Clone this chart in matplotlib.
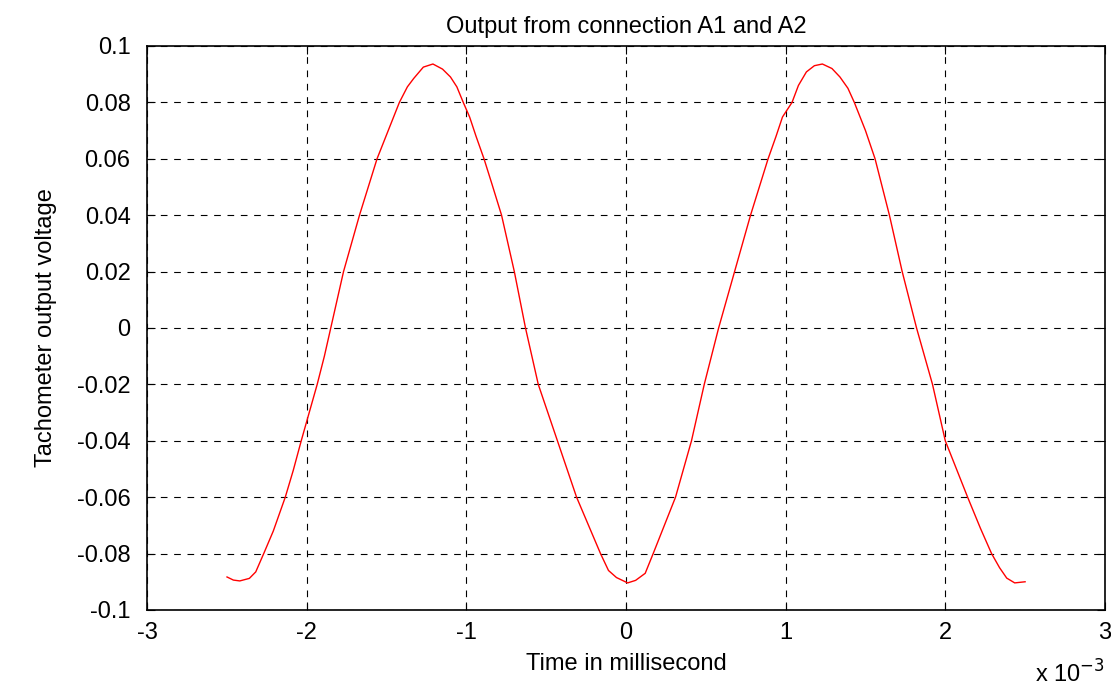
import matplotlib
matplotlib.use("Agg")
import matplotlib.pyplot as plt
import numpy as np
from matplotlib.ticker import FuncFormatter, MultipleLocator

# data (time in ms, voltage in V)
time_ms = [-2.50, -2.46, -2.42, -2.36, -2.32, -2.27, -2.21, -2.135, -2.085, -2.035,
           -1.985, -1.935, -1.89, -1.85, -1.81, -1.77, -1.72, -1.67, -1.615, -1.56,
           -1.49, -1.42, -1.37, -1.33, -1.27, -1.21, -1.15, -1.10, -1.06, -1.02,
           -0.98, -0.94, -0.89, -0.84, -0.78, -0.74, -0.70, -0.665, -0.63, -0.59,
           -0.55, -0.49, -0.43, -0.37, -0.31, -0.235, -0.16, -0.11, -0.06, 0.01,
           0.06, 0.12, 0.17, 0.24, 0.31, 0.36, 0.41, 0.45, 0.49, 0.535,
           0.58, 0.63, 0.68, 0.73, 0.78, 0.835, 0.89, 0.94, 0.98, 1.04,
           1.08, 1.13, 1.18, 1.23, 1.29, 1.34, 1.39, 1.43, 1.50, 1.56,
           1.65, 1.73, 1.775, 1.82, 1.87, 1.92, 1.96, 2.00, 2.07, 2.14,
           2.22, 2.29, 2.34, 2.385, 2.435, 2.50]
voltage = [-0.0883, -0.0894, -0.0897, -0.0888, -0.0865, -0.0800, -0.0720, -0.0600, -0.0505, -0.0400,
           -0.0300, -0.0200, -0.0100, 0.0000, 0.0100, 0.0200, 0.0300, 0.0400, 0.0500, 0.0600,
           0.0700, 0.0800, 0.0855, 0.0885, 0.0925, 0.0936, 0.0918, 0.0890, 0.0855, 0.0800,
           0.0748, 0.0680, 0.0600, 0.0510, 0.0400, 0.0300, 0.0200, 0.0100, 0.0000, -0.0100,
           -0.0200, -0.0300, -0.0400, -0.0500, -0.0600, -0.0700, -0.0800, -0.0860, -0.0885, -0.0904,
           -0.0895, -0.0870, -0.0800, -0.0700, -0.0600, -0.0500, -0.0400, -0.0300, -0.0200, -0.0100,
           0.0000, 0.0100, 0.0200, 0.0300, 0.0400, 0.0500, 0.0600, 0.0680, 0.0748, 0.0800,
           0.0860, 0.0908, 0.0930, 0.0936, 0.0920, 0.0890, 0.0850, 0.0800, 0.0700, 0.0600,
           0.0400, 0.0200, 0.0100, 0.0000, -0.0100, -0.0200, -0.0300, -0.0400, -0.0500, -0.0600,
           -0.0710, -0.0800, -0.0850, -0.0887, -0.0904, -0.0900]

title = "Output from connection A1 and A2"
xlabel = "Time in millisecond"
ylabel = "Tachometer output voltage"

plt.rcParams['font.family'] = ['Liberation Sans', 'DejaVu Sans']

fig = plt.figure(figsize=(11.11, 6.89), dpi=100)
ax = fig.add_axes([0.1325, 0.1147, 0.862, 0.8186])

t = np.array(time_ms) * 1e-3
ax.plot(t, voltage, color='red', linewidth=1.0)

ax.set_xlim(-3e-3, 3e-3)
ax.set_ylim(-0.1, 0.1)
ax.xaxis.set_major_locator(MultipleLocator(1e-3))
ax.yaxis.set_major_locator(MultipleLocator(0.02))
ax.xaxis.set_major_formatter(FuncFormatter(lambda v, p: "%g" % (round(v * 1e3, 6) + 0.0)))
ax.yaxis.set_major_formatter(FuncFormatter(lambda v, p: "%g" % (round(v, 6) + 0.0)))

ax.grid(True, color='black', linestyle=(0, (6, 6)), linewidth=0.8)
ax.tick_params(direction='in', top=True, right=True, length=6, labelsize=17)
ax.tick_params(axis='y', pad=12)
ax.tick_params(axis='x', pad=9)
for s in ax.spines.values():
    s.set_linewidth(1.2)

ax.set_title(title, fontsize=17, pad=9)
ax.set_xlabel(xlabel, fontsize=17, labelpad=6)
ax.set_ylabel(ylabel, fontsize=17, labelpad=14)
fig.text(0.963, 0.022, r"x 10$^{-3}$", fontsize=17, ha='center', va='center')

fig.savefig("out.png", dpi=100)
